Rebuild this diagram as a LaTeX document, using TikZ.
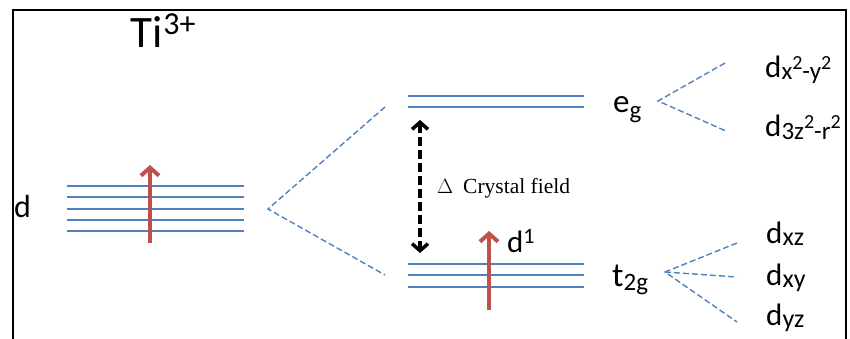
\documentclass[tikz,border=0pt]{standalone}
\usepackage{fontspec}
\setmainfont{Carlito}
\newfontfamily\serifx{Liberation Serif}
\usetikzlibrary{arrows.meta}
\definecolor{lvlblue}{RGB}{79,129,189}
\definecolor{spinred}{RGB}{192,80,77}
\newcommand{\fsz}[1]{\fontsize{#1}{#1}\selectfont}
\newcommand{\lowr}[3]{\raisebox{-#1}{\fsz{#2}#3}}
\newcommand{\upr}[3]{\raisebox{#1}{\fsz{#2}#3}}
\begin{document}
\begin{tikzpicture}[x=1pt,y=-1pt,
  lvl/.style={draw=lvlblue,line width=1.6pt},
  split/.style={draw=lvlblue,line width=1.4pt,dash pattern=on 6pt off 3pt},
  spin/.style={draw=spinred,line width=4pt,-{Straight Barb[length=8pt,width=18pt]}},
  gap/.style={draw=black,line width=3.5pt,dash pattern=on 9pt off 4pt,
    {Straight Barb[length=7pt,width=16pt]}-{Straight Barb[length=7pt,width=16pt]}},
  lab/.style={inner sep=0pt,anchor=base west}]
\useasboundingbox (0,0) rectangle (850,339);
% frame
\draw[line width=1.5pt] (13,339) -- (13,10) -- (846,10) -- (846,339);
% labels
\node[lab,font=\fsz{45}] (ti) at (130,48) {Ti\hspace{1pt}\upr{13pt}{32}{3+}};
\node[lab,font=\fsz{32}] (dfree) at (14,217) {d};
\node[lab,font=\fsz{33}] (eg) at (613,113) {e\lowr{6pt}{25}{g}};
\node[lab,font=\fsz{34}] (tg) at (612,286) {t\lowr{4pt}{25}{2g}};
\node[lab,font=\fsz{31}] (done) at (507,252) {d\upr{9pt}{22}{1}};
\node[lab,font=\fsz{31}] (dx2) at (765,78) {d\lowr{2pt}{25}{x}\upr{8pt}{20}{2}\lowr{2pt}{25}{-y}\upr{8pt}{20}{2}};
\node[lab,font=\fsz{31}] (dz2) at (765,137) {d\lowr{2pt}{25}{3z}\upr{8pt}{20}{2}\lowr{2pt}{25}{-r}\upr{8pt}{20}{2}};
\node[lab,font=\fsz{31}] (dxz) at (766,243) {d\lowr{2pt}{26}{xz}};
\node[lab,font=\fsz{31}] (dxy) at (766,285) {d\lowr{2pt}{26}{xy}};
\node[lab,font=\fsz{31}] (dyz) at (766,325) {d\lowr{2pt}{26}{yz}};
\node[lab,font=\serifx\fsz{21.5}] (cf) at (437,193) {$\Delta$\hspace{10pt}Crystal field};
% free-ion d levels
\foreach \y in {186,197,209,220,231} \draw[lvl] (67,\y) -- (244,\y);
% eg and t2g levels
\foreach \y in {96,107} \draw[lvl] (408,\y) -- (584,\y);
\foreach \y in {264,275,287} \draw[lvl] (408,\y) -- (584,\y);
% splitting coordinates
\coordinate (ap0) at (268,209);
\coordinate (egL) at (385,107);
\coordinate (tgL) at (385,275);
\coordinate (apE) at (658,101);
\coordinate (e1) at (725,63);
\coordinate (e2) at (726,131);
\coordinate (apT) at (665,272);
\coordinate (t1) at (737,243);
\coordinate (t2) at (737,277);
\coordinate (t3) at (737,322);
\draw[split] (egL) -- (ap0) -- (tgL);
\draw[split] (e1) -- (apE) -- (e2);
\draw[split] (t1) -- (apT) -- (t3);
\draw[split] (apT) -- (t2);
% spins
\coordinate (s1a) at (150,243); \coordinate (s1b) at (150,165);
\coordinate (s2a) at (489,310); \coordinate (s2b) at (489,231);
\draw[spin] (s1a) -- (s1b);
\draw[spin] (s2a) -- (s2b);
% crystal field gap
\coordinate (ga) at (420,120); \coordinate (gb) at (420,253);
\draw[gap] (ga) -- (gb);
\end{tikzpicture}
\end{document}
